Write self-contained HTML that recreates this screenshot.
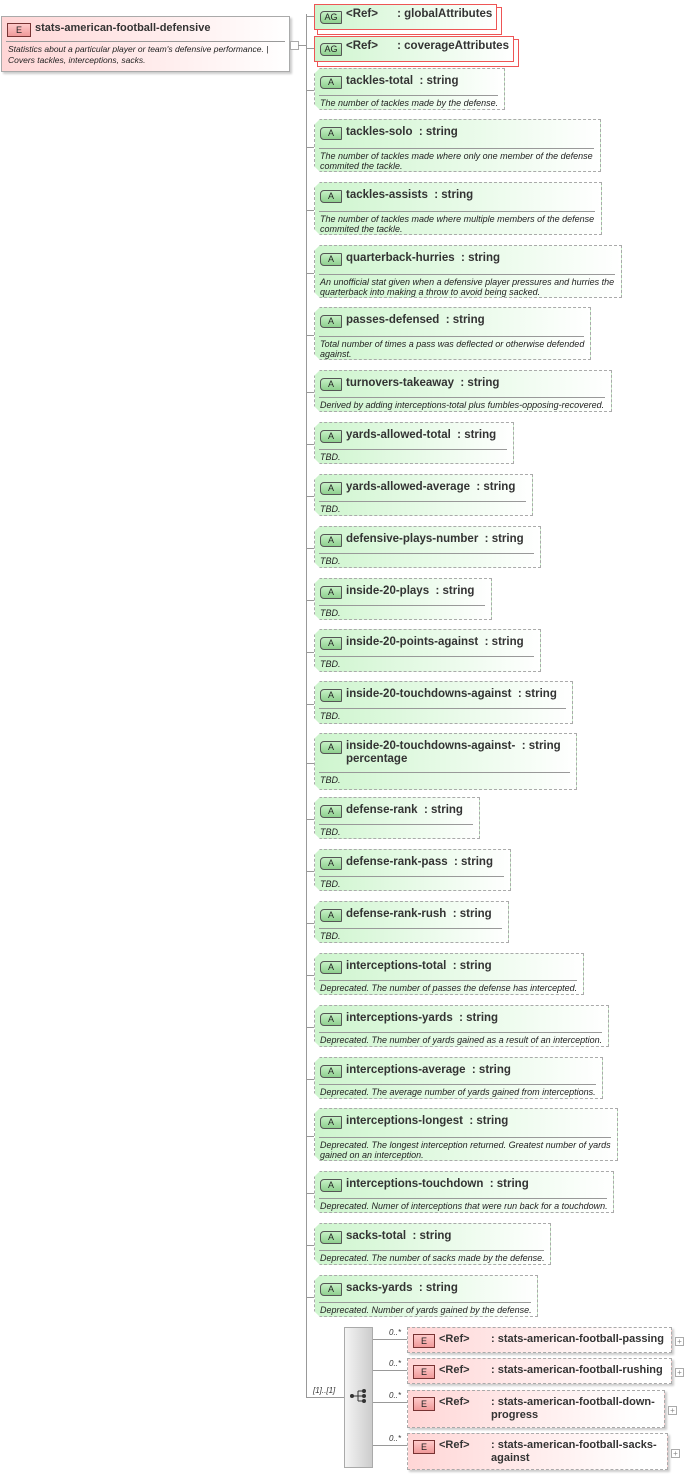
<!DOCTYPE html>
<html><head><meta charset="utf-8"><style>
body{margin:0;width:685px;height:1477px;background:#fff;position:relative;font-family:"Liberation Sans",sans-serif;overflow:hidden}
.abs{position:absolute}
.att{position:absolute;left:314px;box-sizing:border-box;border:1px dashed #aaa;background:linear-gradient(90deg,#cef5ce,#fff 100%);box-shadow:2px 2px 2px #ccc;clip-path:polygon(6px 0,100% 0,100% 100%,6px 100%,0 calc(100% - 6px),0 6px)}
.att .t{position:absolute;left:31px;top:6px;font-size:11.5px;font-weight:bold;color:#333;line-height:13px;white-space:nowrap}
.att .sep{position:absolute;left:4px;right:6px;height:1px;background:#999}
.att .d{position:absolute;left:5px;right:2px;font-size:9px;font-style:italic;color:#222;line-height:10px;white-space:nowrap}
.badge{position:absolute;left:5px;top:7px;width:20px;height:11px;border:1px solid #555;border-radius:4px 1px 1px 4px;background:linear-gradient(#c6f0c6,#8fd08f);font-size:9px;text-align:center;line-height:11px;color:#222}
.tick{position:absolute;left:306px;width:8px;height:1px;background:#999}
.el{position:absolute;left:407px;box-sizing:border-box;border:1px dashed #aaa;background:linear-gradient(90deg,#ffd6d6,#fff 90%);box-shadow:2px 2px 2px #ccc}
.eb{position:absolute;left:5px;width:20px;height:12px;border:1px solid #733;background:linear-gradient(#ffcaca,#f09a9a);font-size:9px;text-align:center;line-height:12px;color:#222}
.plus{position:absolute;width:7px;height:7px;border:1px solid #aaa;font-size:8px;line-height:7px;text-align:center;color:#888}
.mult{position:absolute;font-size:8px;font-style:italic;color:#333}
</style></head><body>
<div class="abs" style="left:1px;top:16px;width:289px;height:56px;box-sizing:border-box;border:1px solid #aaa;background:linear-gradient(90deg,#ffd6d6,#fff);box-shadow:2px 2px 2px #ccc">
<div class="eb" style="top:6px;left:5px;width:22px">E</div>
<div class="abs" style="left:33px;top:5px;font-size:11px;font-weight:bold;color:#333">stats-american-football-defensive</div>
<div class="abs" style="left:4px;right:4px;top:24px;height:1px;background:#999"></div>
<div class="abs" style="left:6px;top:27px;font-size:8.5px;font-style:italic;line-height:11px;color:#222">Statistics about a particular player or team's defensive performance. |<br>Covers tackles, interceptions, sacks.</div>
</div>
<div class="abs" style="left:290px;top:41px;width:7px;height:7px;border:1px solid #aaa;background:#fff"></div>
<div class="abs" style="left:298px;top:45px;width:8px;height:1px;background:#999"></div>
<div class="abs" style="left:306px;top:14px;width:1px;height:1384px;background:#999"></div>
<div class="abs" style="left:306px;top:1397px;width:38px;height:1px;background:#999"></div>
<div class="mult" style="left:313px;top:1386px">[1]..[1]</div>
<div class="abs" style="left:317px;top:7px;width:183px;height:26px;border:1px solid #e55;background:#fff"></div>
<div class="att" style="top:4px;width:183px;height:26px;border:1px solid #e55;clip-path:none;box-shadow:none"><div class="badge" style="top:6px">AG</div><div class="t" style="top:3px">&lt;Ref&gt;&nbsp;&nbsp;&nbsp;&nbsp;&nbsp;&nbsp;: globalAttributes</div></div>
<div class="tick" style="top:16px"></div>
<div class="abs" style="left:317px;top:39px;width:200px;height:26px;border:1px solid #e55;background:#fff"></div>
<div class="att" style="top:36px;width:200px;height:26px;border:1px solid #e55;clip-path:none;box-shadow:none"><div class="badge" style="top:6px">AG</div><div class="t" style="top:3px">&lt;Ref&gt;&nbsp;&nbsp;&nbsp;&nbsp;&nbsp;&nbsp;: coverageAttributes</div></div>
<div class="tick" style="top:48px"></div>
<div id="atts"></div>
<div class="abs" style="left:344px;top:1327px;width:29px;height:141px;box-sizing:border-box;border:1px solid #aaa;background:linear-gradient(90deg,#f4f4f4,#ccc)"></div>
<svg class="abs" style="left:349px;top:1388px" width="20" height="16"><circle cx="3" cy="8" r="2" fill="#333"/><line x1="3" y1="8" x2="9" y2="8" stroke="#333"/><line x1="9" y1="3" x2="9" y2="13" stroke="#333"/><line x1="9" y1="3" x2="15" y2="3" stroke="#333"/><line x1="9" y1="8" x2="15" y2="8" stroke="#333"/><line x1="9" y1="13" x2="15" y2="13" stroke="#333"/><circle cx="15" cy="3" r="2" fill="#333"/><circle cx="15" cy="8" r="2" fill="#333"/><circle cx="15" cy="13" r="2" fill="#333"/></svg>
<div id="els"></div>
<script>
var A=[[68,42,505,"tackles-total","The number of tackles made by the defense."],
[119,53,601,"tackles-solo","The number of tackles made where only one member of the defense<br>commited the tackle."],
[182,53,602,"tackles-assists","The number of tackles made where multiple members of the defense<br>commited the tackle."],
[245,53,622,"quarterback-hurries","An unofficial stat given when a defensive player pressures and hurries the<br>quarterback into making a throw to avoid being sacked."],
[307,53,591,"passes-defensed","Total number of times a pass was deflected or otherwise defended<br>against."],
[370,42,612,"turnovers-takeaway","Derived by adding interceptions-total plus fumbles-opposing-recovered."],
[422,42,514,"yards-allowed-total","TBD."],
[474,42,533,"yards-allowed-average","TBD."],
[526,42,541,"defensive-plays-number","TBD."],
[578,42,492,"inside-20-plays","TBD."],
[629,43,541,"inside-20-points-against","TBD."],
[681,43,573,"inside-20-touchdowns-against","TBD."],
[733,57,577,"inside-20-touchdowns-against-&nbsp;&nbsp;: string<br>percentage","TBD.",1],
[797,42,480,"defense-rank","TBD."],
[849,42,511,"defense-rank-pass","TBD."],
[901,42,509,"defense-rank-rush","TBD."],
[953,42,584,"interceptions-total","Deprecated. The number of passes the defense has intercepted."],
[1005,42,609,"interceptions-yards","Deprecated. The number of yards gained as a result of an interception."],
[1057,42,603,"interceptions-average","Deprecated. The average number of yards gained from interceptions."],
[1108,53,618,"interceptions-longest","Deprecated. The longest interception returned. Greatest number of yards<br>gained on an interception."],
[1171,42,614,"interceptions-touchdown","Deprecated. Numer of interceptions that were run back for a touchdown."],
[1223,42,551,"sacks-total","Deprecated. The number of sacks made by the defense."],
[1275,42,538,"sacks-yards","Deprecated. Number of yards gained by the defense."]];
var h="";
A.forEach(function(a){var two=a[5];var sy=two?38:(a[1]>50?28:26);
h+='<div class="att" style="top:'+a[0]+'px;height:'+a[1]+'px;width:'+(a[2]-314)+'px"><div class="badge">A</div><div class="t">'+(two?a[3]:a[3]+'&nbsp;&nbsp;: string')+'</div><div class="sep" style="top:'+sy+'px"></div><div class="d" style="top:'+(sy+3)+'px">'+a[4]+'</div></div>';
h+='<div class="tick" style="top:'+(a[0]+Math.round(a[1]/2)+1)+'px"></div>';});
document.getElementById("atts").innerHTML=h;
var E=[[1327,26,672,"stats-american-football-passing"],[1358,26,672,"stats-american-football-rushing"],[1390,38,665,"stats-american-football-down-<br>progress"],[1433,37,668,"stats-american-football-sacks-<br>against"]];
h="";
E.forEach(function(e){
h+='<div class="el" style="top:'+e[0]+'px;height:'+e[1]+'px;width:'+(e[2]-407)+'px"><div class="eb" style="top:6px">E</div><div class="abs" style="left:31px;top:5px;font-size:11px;font-weight:bold;color:#333">&lt;Ref&gt;</div><div class="abs" style="left:83px;top:5px;font-size:11px;font-weight:bold;color:#333;line-height:13px">: '+e[3]+'</div></div>';
h+='<div class="abs" style="left:373px;top:'+(e[0]+12)+'px;width:34px;height:1px;background:#999"></div>';
h+='<div class="mult" style="left:389px;top:'+(e[0]+1)+'px">0..*</div>';
h+='<div class="plus" style="left:'+(e[2]+3)+'px;top:'+(e[0]+(e[1]>30?16:10))+'px">+</div>';});
document.getElementById("els").innerHTML=h;
</script>
</body></html>
